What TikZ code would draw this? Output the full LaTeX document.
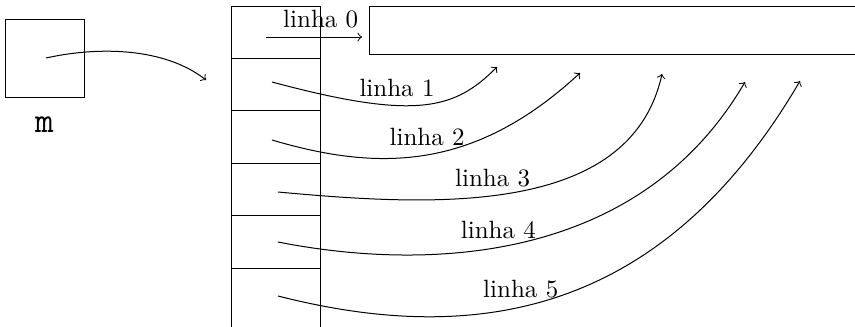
\documentclass[tikz,border=0pt]{standalone}
\usetikzlibrary{positioning}

\begin{document}
\begin{tikzpicture}[x=0.4pt, y=-0.4pt,
    box/.style={rectangle, draw, inner sep=0pt, outer sep=0pt},
    cell/.style={box, minimum width=35.6pt, minimum height=20.96pt},
    ptr/.style={->},
    rotulo/.style={above},
    node distance=0pt
]
\useasboundingbox (0,0) rectangle (855,327);

% --- variavel m ---
\node[box, minimum size=31.2pt] (m) at (45,58) {};
\node[font=\Large\ttfamily, inner sep=0pt] (mname) at (44.5,124.5) {m};

% --- vetor de ponteiros (linhas) ---
\node[cell] (c0) at (275.5,32.2) {};
\node[cell, below=of c0] (c1) {};
\node[cell, below=of c1] (c2) {};
\node[cell, below=of c2] (c3) {};
\node[cell, below=of c3] (c4) {};
\node[box, draw=none, minimum width=35.6pt, minimum height=24pt, below=of c4] (c5) {};
\draw (c5.north west) -- (c5.south west);
\draw (c5.north east) -- (c5.south east);

% --- linha 0 alocada ---
\node[box, minimum width=196pt, minimum height=19.2pt] (r0) at (615,30) {};

% --- pontos de saida e chegada ---
\coordinate (sm) at (46,58);   \coordinate (em) at (206,80);
\coordinate (s0) at (266,37);  \coordinate (e0) at (362,37);
\coordinate (s1) at (272,82);  \coordinate (e1) at (497,67);
\coordinate (s2) at (272,140); \coordinate (e2) at (580,73);
\coordinate (s3) at (278,192); \coordinate (e3) at (662,74);
\coordinate (s4) at (278,242); \coordinate (e4) at (745,82);
\coordinate (s5) at (278,296); \coordinate (e5) at (800,81);

% --- ponteiros ---
\draw[ptr] (sm) .. controls (100,46) and (165,48) .. (em);
\draw[ptr] (s0) -- node[rotulo, pos=0.57] {linha 0} (e0);
\draw[ptr] (s1) .. controls (417,121) and (455,109) .. node[rotulo, pos=0.38] {linha 1} (e1);
\draw[ptr] (s2) .. controls (380,172) and (475,170) .. node[rotulo, pos=0.5] {linha 2} (e2);
\draw[ptr] (s3) .. controls (430,206) and (630,218) .. node[rotulo, pos=0.45] {linha 3} (e3);
\draw[ptr] (s4) .. controls (430,272) and (640,262) .. node[rotulo, pos=0.44] {linha 4} (e4);
\draw[ptr] (s5) .. controls (470,345) and (660,320) .. node[rotulo, pos=0.43] {linha 5} (e5);

\end{tikzpicture}
\end{document}
